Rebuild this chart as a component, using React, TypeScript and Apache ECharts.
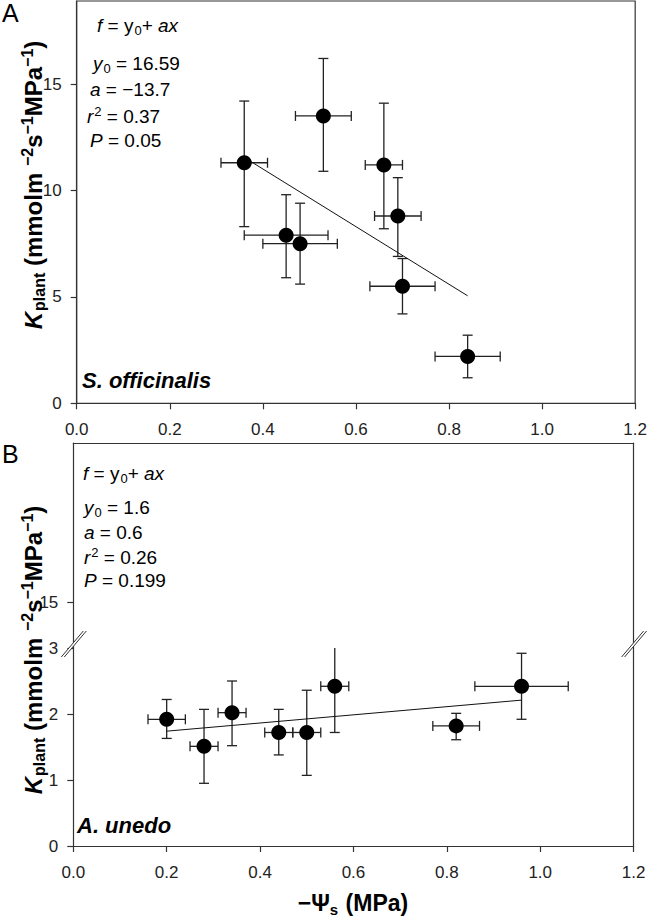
import React, { useEffect, useRef } from "react";
import * as echarts from "echarts";

const FONT = '"Liberation Sans", Arial, Helvetica, sans-serif';
const INK = "#000";
const AXIS = "#333";

// tick labels
const A_Y_TICKS = [0, 5, 10, 15];
const B_Y_TICKS = [0, 1, 2, 3];
const B_TOP_TICKS = [15];

// panel A – S. officinalis
const offX = [0.36, 0.45, 0.48, 0.53, 0.66, 0.69, 0.7, 0.84];
const offK = [11.3, 7.9, 7.5, 13.5, 11.2, 8.8, 5.5, 2.2];
const offXLow = [0.31, 0.36, 0.4, 0.47, 0.62, 0.64, 0.63, 0.77];
const offXHigh = [0.41, 0.54, 0.56, 0.59, 0.7, 0.74, 0.77, 0.91];
const offKLow = [8.3, 5.9, 5.6, 10.9, 8.2, 6.9, 4.2, 1.2];
const offKHigh = [14.2, 9.8, 9.4, 16.2, 14.1, 10.6, 6.8, 3.2];
const offFit = [
  [0.36, 11.55],
  [0.84, 5.05],
];

// panel B – A. unedo
const uneX = [0.2, 0.28, 0.34, 0.44, 0.5, 0.56, 0.82, 0.96];
const uneK = [1.92, 1.51, 2.02, 1.72, 1.72, 2.42, 1.82, 2.42];
const uneXLow = [0.16, 0.25, 0.31, 0.41, 0.47, 0.53, 0.77, 0.86];
const uneXHigh = [0.24, 0.31, 0.37, 0.47, 0.53, 0.59, 0.87, 1.06];
const uneKLow = [1.63, 0.95, 1.52, 1.38, 1.07, 1.72, 1.61, 1.92];
const uneKHigh = [2.22, 2.07, 2.5, 2.07, 2.36, 3.1, 2.01, 2.92];
const uneFit = [
  [0.2, 1.74],
  [0.96, 2.21],
];

const tok = (fontSize: number, extra: Record<string, any> = {}) => ({
  fontSize,
  fontFamily: FONT,
  fontWeight: "normal",
  fontStyle: "normal",
  fill: INK,
  ...extra,
});

const eqRich = {
  i: tok(19, { fontStyle: "italic" }),
  sub: tok(13, { padding: [10, 0, 0, 1] }),
  sup: tok(13, { padding: [0, 0, 10, 1] }),
};

const titleRich = {
  k: tok(24, { fontWeight: "bold", fontStyle: "italic" }),
  sub: tok(16, { fontWeight: "bold", padding: [12, 0, 0, 1] }),
  sup: tok(16, { fontWeight: "bold", padding: [0, 0, 12, 0] }),
};

const eqText = (text: string, x: number, y: number) => ({
  type: "text",
  x,
  y,
  z: 100,
  style: {
    text,
    ...tok(19),
    rich: eqRich,
    align: "left",
    verticalAlign: "middle",
  },
});

const breakMark = (x: number, y: number) => ({
  type: "group",
  x,
  y,
  z: 100,
  children: [
    {
      type: "polygon",
      z: 100,
      shape: { points: [[-12, 13], [10, -13], [13, -13], [-9, 13]] },
      style: { fill: "#fff" },
    },
    {
      type: "line",
      z: 101,
      shape: { x1: -12, y1: 13, x2: 10, y2: -13 },
      style: { stroke: AXIS, lineWidth: 1 },
    },
    {
      type: "line",
      z: 101,
      shape: { x1: -9, y1: 13, x2: 13, y2: -13 },
      style: { stroke: AXIS, lineWidth: 1 },
    },
  ],
});

const errorBars = (params: any, api: any) => {
  const x = api.value(0);
  const y = api.value(1);
  const c = api.coord([x, y]);
  const xl = api.coord([api.value(2), y])[0];
  const xh = api.coord([api.value(3), y])[0];
  const yl = api.coord([x, api.value(4)])[1];
  const yh = api.coord([x, api.value(5)])[1];
  const cap = 5;
  const style = { stroke: "#222", lineWidth: 1.3 };
  const ln = (x1: number, y1: number, x2: number, y2: number) => ({
    type: "line",
    shape: { x1, y1, x2, y2 },
    style,
  });
  return {
    type: "group",
    children: [
      ln(xl, c[1], xh, c[1]),
      ln(xl, c[1] - cap, xl, c[1] + cap),
      ln(xh, c[1] - cap, xh, c[1] + cap),
      ln(c[0], yl, c[0], yh),
      ln(c[0] - cap, yl, c[0] + cap, yl),
      ln(c[0] - cap, yh, c[0] + cap, yh),
    ],
  };
};

const tickLabel = {
  fontSize: 17,
  fontFamily: FONT,
  color: "#222",
};

const xAxisBase = (gridIndex: number) => ({
  type: "value",
  gridIndex,
  min: 0,
  max: 1.2,
  interval: 0.2,
  axisLine: { show: true, lineStyle: { color: AXIS, width: 1.2 } },
  axisTick: { show: true, length: 6, lineStyle: { color: AXIS, width: 1.2 } },
  axisLabel: {
    ...tickLabel,
    margin: 18,
    formatter: (v: number) => v.toFixed(1),
  },
  splitLine: { show: false },
});

const yAxisBase = (gridIndex: number, min: number, max: number, ticks: number[]) => ({
  type: "value",
  gridIndex,
  min,
  max,
  axisLine: { show: true, lineStyle: { color: AXIS, width: 1.2 } },
  axisTick: { show: true, length: 6, customValues: ticks, lineStyle: { color: AXIS, width: 1.2 } },
  axisLabel: { ...tickLabel, margin: 15, customValues: ticks },
  splitLine: { show: false },
});

const plainAxis = (extra: Record<string, any>) => ({
  type: "value",
  axisLine: { show: true, lineStyle: { color: AXIS, width: 1.2 } },
  axisTick: { show: false },
  axisLabel: { show: false },
  splitLine: { show: false },
  ...extra,
});

const zip = (xs: number[], ks: number[], xl: number[], xh: number[], kl: number[], kh: number[]) =>
  xs.map((x, i) => [x, ks[i], xl[i], xh[i], kl[i], kh[i]]);

const App: React.FC = () => {
  const chartRef = useRef<HTMLDivElement | null>(null);

  useEffect(() => {
    if (!chartRef.current) return;
    const chart = echarts.init(chartRef.current, null, { renderer: "svg" });

    const yTitle = "{k|K}{sub|plant} (mmolm {sup|−2}s{sup|−1}MPa{sup|−1})";

    chart.setOption({
      animation: false,
      backgroundColor: "#fff",
      grid: [
        { left: 76.7, top: 1, width: 560.6, height: 402.3, show: true, borderColor: AXIS, borderWidth: 1.2 },
        { left: 73.3, top: 648, width: 560.3, height: 198 },
        { left: 73.3, top: 443, width: 560.3, height: 205 },
      ],
      xAxis: [
        xAxisBase(0),
        xAxisBase(1),
        plainAxis({ gridIndex: 2, position: "top", min: 0, max: 1.2 }),
      ],
      yAxis: [
        yAxisBase(0, 0, 18.9, A_Y_TICKS),
        { ...yAxisBase(1, 0, 3, B_Y_TICKS), interval: 1 },
        plainAxis({ gridIndex: 1, position: "right", min: 0, max: 3 }),
        yAxisBase(2, 14, 18.5, B_TOP_TICKS),
        plainAxis({ gridIndex: 2, position: "right", min: 14, max: 18.5 }),
      ],
      series: [
        {
          type: "custom",
          xAxisIndex: 0,
          yAxisIndex: 0,
          renderItem: errorBars,
          data: zip(offX, offK, offXLow, offXHigh, offKLow, offKHigh),
          z: 2,
        },
        {
          type: "line",
          xAxisIndex: 0,
          yAxisIndex: 0,
          data: offFit,
          symbol: "none",
          lineStyle: { color: "#111", width: 1 },
          z: 3,
        },
        {
          type: "scatter",
          xAxisIndex: 0,
          yAxisIndex: 0,
          data: offX.map((x, i) => [x, offK[i]]),
          symbolSize: 15,
          itemStyle: { color: INK, opacity: 1 },
          z: 4,
        },
        {
          type: "custom",
          xAxisIndex: 1,
          yAxisIndex: 1,
          clip: true,
          renderItem: errorBars,
          data: zip(uneX, uneK, uneXLow, uneXHigh, uneKLow, uneKHigh),
          z: 2,
        },
        {
          type: "line",
          xAxisIndex: 1,
          yAxisIndex: 1,
          data: uneFit,
          symbol: "none",
          lineStyle: { color: "#111", width: 1 },
          z: 3,
        },
        {
          type: "scatter",
          xAxisIndex: 1,
          yAxisIndex: 1,
          data: uneX.map((x, i) => [x, uneK[i]]),
          symbolSize: 15,
          itemStyle: { color: INK, opacity: 1 },
          z: 4,
        },
      ],
      graphic: [
        // panel letters
        { type: "text", x: 2, y: 13, z: 100, style: { text: "A", ...tok(25), verticalAlign: "middle" } },
        { type: "text", x: 2, y: 454, z: 100, style: { text: "B", ...tok(25), verticalAlign: "middle" } },
        // panel A statistics
        eqText("{i|f} = y{sub|0}+ {i|ax}", 97, 25),
        eqText("{i|y}{sub|0} = 16.59", 93, 63),
        eqText("{i|a} = −13.7", 90, 89),
        eqText("{i|r}{sup|2} = 0.37", 87, 116),
        eqText("{i|P} = 0.05", 90, 140),
        // panel B statistics
        eqText("{i|f} = y{sub|0}+ {i|ax}", 83, 473),
        eqText("{i|y}{sub|0} = 1.6", 84, 507),
        eqText("{i|a} = 0.6", 84, 532),
        eqText("{i|r}{sup|2} = 0.26", 84, 557),
        eqText("{i|P} = 0.199", 84, 580),
        // species
        {
          type: "text",
          x: 82,
          y: 380,
          z: 100,
          style: { text: "S. officinalis", ...tok(22, { fontWeight: "bold", fontStyle: "italic" }), verticalAlign: "middle" },
        },
        {
          type: "text",
          x: 77,
          y: 825,
          z: 100,
          style: { text: "A. unedo", ...tok(22, { fontWeight: "bold", fontStyle: "italic" }), verticalAlign: "middle" },
        },
        // y titles
        {
          type: "text",
          x: 33,
          y: 185,
          rotation: Math.PI / 2,
          z: 100,
          style: {
            text: yTitle,
            ...tok(24, { fontWeight: "bold" }),
            rich: titleRich,
            align: "center",
            verticalAlign: "middle",
          },
        },
        {
          type: "text",
          x: 33,
          y: 650,
          rotation: Math.PI / 2,
          z: 100,
          style: {
            text: yTitle,
            ...tok(24, { fontWeight: "bold" }),
            rich: titleRich,
            align: "center",
            verticalAlign: "middle",
          },
        },
        // x title
        {
          type: "text",
          x: 353,
          y: 903,
          z: 100,
          style: {
            text: "−Ψ{sub|s} (MPa)",
            ...tok(23, { fontWeight: "bold" }),
            rich: { sub: tok(15, { fontWeight: "bold", padding: [12, 1, 0, 0] }) },
            align: "center",
            verticalAlign: "middle",
          },
        },
        // scale break marks
        breakMark(73.3, 644),
        breakMark(633.6, 644),
      ],
    });

    return () => {
      chart.dispose();
    };
  }, []);

  return (
    <div
      ref={chartRef}
      style={{ position: "absolute", left: 0, top: 0, width: 650, height: 919 }}
    />
  );
};

export default App;
